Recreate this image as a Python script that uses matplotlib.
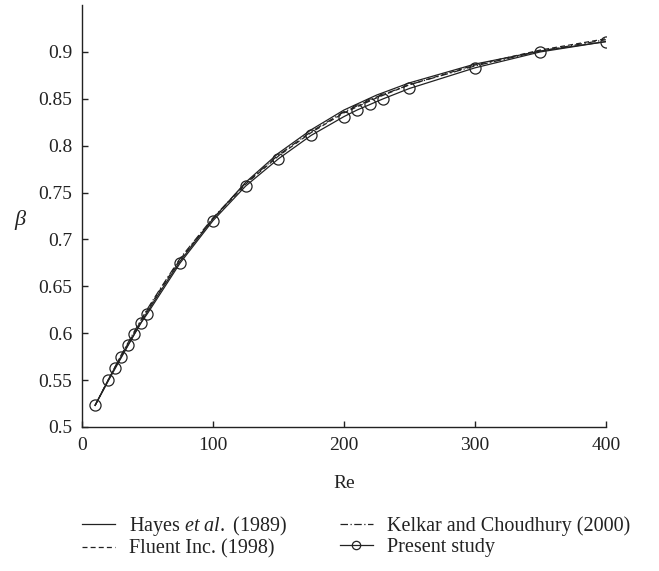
import numpy as np
import matplotlib.pyplot as plt

plt.rcParams['font.family'] = ['Liberation Serif', 'DejaVu Serif']
plt.rcParams['mathtext.fontset'] = 'custom'
plt.rcParams['mathtext.rm'] = 'Liberation Serif'
plt.rcParams['mathtext.it'] = 'Liberation Serif:italic'

# Present study (circles)
re_present = [10, 20, 25, 30, 35, 40, 45, 50, 75, 100, 125, 150, 175,
              200, 210, 220, 230, 250, 300, 350, 400]
beta_present = [0.523, 0.550, 0.563, 0.575, 0.587, 0.599, 0.611, 0.621,
                0.675, 0.720, 0.757, 0.786, 0.811, 0.831, 0.838, 0.844,
                0.850, 0.861, 0.883, 0.900, 0.911]

# literature curves
re_lit = [10, 20, 30, 40, 50, 60, 75, 100, 125, 150, 175, 200, 225, 250, 300, 350, 400]
beta_hayes = [0.523, 0.549, 0.574, 0.599, 0.623, 0.645, 0.677, 0.722, 0.761, 0.792,
              0.817, 0.838, 0.854, 0.867, 0.887, 0.901, 0.911]
beta_fluent = [0.523, 0.550, 0.576, 0.601, 0.625, 0.647, 0.679, 0.722, 0.759, 0.789,
               0.814, 0.835, 0.851, 0.865, 0.886, 0.902, 0.914]
beta_kelkar = [0.523, 0.550, 0.577, 0.602, 0.626, 0.648, 0.680, 0.723, 0.760, 0.790,
               0.815, 0.836, 0.852, 0.865, 0.885, 0.901, 0.913]

fig = plt.figure(figsize=(6.59, 5.71), dpi=100)
ax = fig.add_axes([0.1244, 0.2522, 0.795, 0.739])

lw = 0.9
ink = '#222222'
ax.plot(re_lit, beta_hayes, color=ink, lw=lw, ls='-', label=r'Hayes $\it{et\ al.}$ (1989)')
ax.plot(re_lit, beta_fluent, color=ink, lw=lw, ls=(0, (4, 2.5)), label='Fluent Inc. (1998)')
ax.plot(re_lit, beta_kelkar, color=ink, lw=lw, ls=(0, (6, 2, 1, 2)), label='Kelkar and Choudhury (2000)')
ax.plot(re_present, beta_present, color=ink, lw=lw, ls='-', marker='o', ms=8,
        mfc='none', mec=ink, mew=0.9, label='Present study')

ax.set_xlim(0, 400)
ax.set_ylim(0.5, 0.95)
ax.set_xticks([0, 100, 200, 300, 400])
ax.set_yticks([0.5, 0.55, 0.6, 0.65, 0.7, 0.75, 0.8, 0.85, 0.9])
ax.set_yticklabels(['0.5', '0.55', '0.6', '0.65', '0.7', '0.75', '0.8', '0.85', '0.9'])
ax.spines['top'].set_visible(False)
ax.spines['right'].set_visible(False)
for s in ['left', 'bottom']:
    ax.spines[s].set_linewidth(1.0)
    ax.spines[s].set_color(ink)
ax.tick_params(direction='in', length=4, width=1.0, labelsize=14, colors=ink, pad=7)

ax.set_xlabel('Re', fontsize=14, labelpad=15, color=ink)
ax.set_ylabel(r'$\beta$', fontsize=16, rotation=0, color=ink, va='center', ha='center')
ax.yaxis.set_label_coords(-0.117, 0.49)

handles, labels = ax.get_legend_handles_labels()
fig.legend(handles, labels,
           loc='upper left', bbox_to_anchor=(0.1244, 0.099), ncol=2, frameon=False,
           fontsize=14.5, handlelength=1.65, handletextpad=0.7, columnspacing=2.6,
           labelspacing=0.05, borderpad=0, borderaxespad=0, markerscale=0.75,
           labelcolor=ink)

fig.savefig('out.png', dpi=100)
